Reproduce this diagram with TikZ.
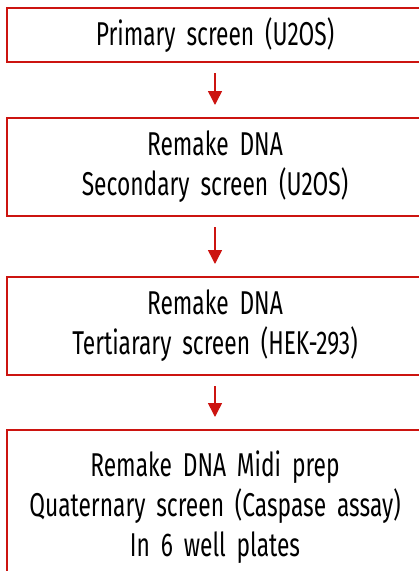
\documentclass[tikz,border=0pt]{standalone}
\usepackage{fontspec}
\setmainfont{Fira Sans}[FakeStretch=0.69, WordSpace=1.8]
\usetikzlibrary{arrows.meta}
\definecolor{boxred}{RGB}{204,20,16}
\begin{document}
\begin{tikzpicture}[x=1pt,y=1pt,
  stage/.style={draw=boxred, line width=2pt, fill=white, minimum width=416pt,
    align=center, font=\fontsize{33}{40}\selectfont, inner sep=0pt},
  flow/.style={draw=boxred, line width=1.5pt, -{Triangle[width=14pt,length=14pt]},
    shorten <=10pt, shorten >=12pt}]
\useasboundingbox (0,0) rectangle (419,-571);
\clip (0,0) rectangle (419,-571);
\node[stage, minimum height=54pt, anchor=north] (b1) at (215,-7) {Primary screen (U2OS)};
\node[stage, minimum height=98pt, anchor=north] (b2) at (215,-117) {Remake DNA\\Secondary screen (U2OS)};
\node[stage, minimum height=98pt, anchor=north] (b3) at (215,-276) {Remake DNA\\Tertiarary screen (HEK-293)};
\node[stage, minimum height=154pt, anchor=north] (b4) at (215,-429) {Remake DNA Midi prep\\Quaternary screen (Caspase assay)\\In 6 well plates};
\draw[flow] (b1.south) -- (b2.north);
\draw[flow] (b2.south) -- (b3.north);
\draw[flow] (b3.south) -- (b4.north);
\end{tikzpicture}
\end{document}
